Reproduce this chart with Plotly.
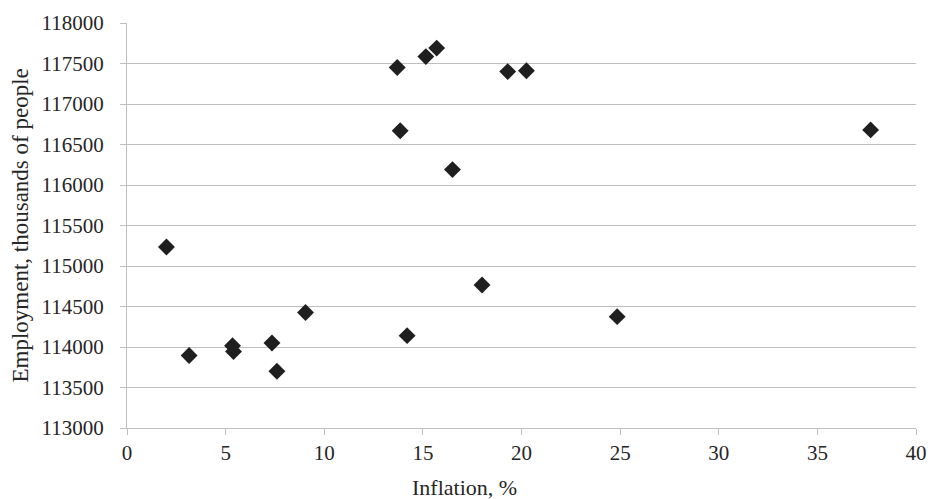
import plotly.graph_objects as go

inflation = [2.0, 3.15, 5.35, 5.4, 7.35, 7.6, 9.05, 14.2, 18.0, 24.85,
             13.7, 13.85, 15.15, 15.7, 19.3, 20.25, 16.5, 37.7]
employment = [115235, 113895, 114015, 113945, 114050, 113700, 114425, 114140, 114765, 114375,
              117450, 116670, 117585, 117690, 117400, 117410, 116190, 116680]

x_ticks = [0, 5, 10, 15, 20, 25, 30, 35, 40]
y_ticks = [113000, 113500, 114000, 114500, 115000, 115500, 116000, 116500, 117000, 117500, 118000]

x_title = "Inflation, %"
y_title = "Employment, thousands of people"

fig = go.Figure()
fig.add_trace(go.Scatter(
    x=inflation, y=employment, mode="markers",
    marker=dict(symbol="diamond", size=13, color="#1f1f1f", line=dict(width=0)),
    showlegend=False,
))

font = "Liberation Serif"
fs = 21
fig.update_layout(
    width=931, height=499,
    margin=dict(l=127, r=15, t=23, b=71, autoexpand=False),
    paper_bgcolor="white", plot_bgcolor="white",
    font=dict(family=font, size=fs, color="#262626"),
)
fig.update_xaxes(
    range=[0, 40], tickvals=x_ticks, ticktext=[str(v) for v in x_ticks],
    showgrid=False, zeroline=False,
    showline=True, linecolor="#bfbfbf", linewidth=1,
    ticks="outside", ticklen=6, tickcolor="#bfbfbf",
    tickfont=dict(family=font, size=fs),
    ticklabeloverflow="allow",
    automargin=False,
)
fig.update_yaxes(
    range=[113000, 118000], tickvals=y_ticks, ticktext=[str(v) for v in y_ticks],
    showgrid=True, gridcolor="#bfbfbf", gridwidth=1, zeroline=False,
    showline=True, linecolor="#bfbfbf", linewidth=1,
    ticks="outside", ticklen=6, tickcolor="#bfbfbf",
    tickfont=dict(family=font, size=fs),
    ticklabelstandoff=12,
    automargin=False,
)
fig.add_annotation(
    text=x_title, xref="paper", yref="paper", x=0.428, y=0,
    xanchor="center", yanchor="middle", yshift=-59, showarrow=False,
    font=dict(family=font, size=22, color="#262626"),
)
fig.add_annotation(
    text=y_title, xref="paper", yref="paper", x=0, y=0.5,
    xanchor="center", yanchor="middle", xshift=-107, textangle=-90, showarrow=False,
    font=dict(family=font, size=23, color="#262626"),
)
fig.write_html(
    "out.html",
    config={"displayModeBar": False},
    post_script="document.body.style.margin='0';document.body.style.overflow='hidden';",
)
